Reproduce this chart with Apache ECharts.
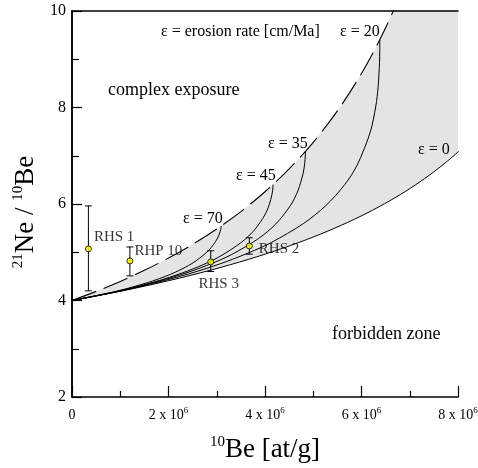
<!DOCTYPE html>
<html>
<head>
<meta charset="utf-8">
<script src="https://cdn.jsdelivr.net/npm/echarts@6/dist/echarts.min.js"></script>
<style>
  html, body { margin: 0; padding: 0; background: #fff; }
  #chart { width: 478px; height: 468px; }
</style>
</head>
<body>
<div id="chart"></div>
<script>
// x = 10Be in 10^6 at/g, y = 21Ne/10Be ratio

// upper envelope (steady state erosion), dashed
const steadyErosion = [
  [0, 4], [0.5, 4.189], [1, 4.396], [1.5, 4.625], [2, 4.879], [2.5, 5.163],
  [3, 5.481], [3.5, 5.842], [4, 6.254], [4.5, 6.727], [5, 7.279], [5.5, 7.929],
  [6, 8.706], [6.5, 9.652], [7, 10.829], [7.5, 12.333], [8, 14.323]
];

// constant erosion curves (cm/Ma)
const erosion0 = [
  [0, 4], [1.057, 4.202], [2.012, 4.413], [2.877, 4.63], [3.66, 4.853], [4.368, 5.083],
  [5.008, 5.319], [5.588, 5.562], [6.113, 5.811], [6.587, 6.067], [7.016, 6.328],
  [7.405, 6.596], [7.757, 6.869], [8.014, 7.091]
];
const erosion20 = [
  [0, 4], [1.019, 4.199], [1.875, 4.403], [2.594, 4.604], [3.198, 4.806], [3.706, 5.007],
  [4.134, 5.203], [4.793, 5.593], [5.259, 5.965], [5.654, 6.404], [5.91, 6.806],
  [6.183, 7.495], [6.297, 8.031], [6.345, 8.43], [6.373, 8.927], [6.379, 9.173], [6.379, 9.405]
];
const erosion35 = [
  [0, 4], [0.992, 4.199], [1.781, 4.395], [2.407, 4.585], [2.906, 4.771], [3.302, 4.949],
  [3.867, 5.285], [4.224, 5.587], [4.529, 5.971], [4.682, 6.273], [4.788, 6.625],
  [4.822, 6.832], [4.836, 7.012], [4.837, 7.089]
];
const erosion45 = [
  [0, 4], [0.974, 4.199], [1.721, 4.389], [2.292, 4.574], [2.731, 4.748], [3.066, 4.914],
  [3.52, 5.213], [3.787, 5.468], [3.995, 5.77], [4.088, 5.986], [4.145, 6.203],
  [4.165, 6.359], [4.165, 6.402]
];
const erosion70 = [
  [0, 4], [0.933, 4.195], [1.584, 4.376], [2.039, 4.542], [2.356, 4.693], [2.578, 4.828],
  [2.842, 5.049], [3.007, 5.274], [3.072, 5.433], [3.09, 5.518], [3.092, 5.544]
];

// samples
const sampleNames = ['RHS 1', 'RHP 10', 'RHS 3', 'RHS 2'];
const sampleBe10  = [0.34, 1.2, 2.875, 3.675];
const sampleRatio = [5.07, 4.82, 4.8, 5.13];
const sampleLow   = [4.2, 4.51, 4.6, 4.96];
const sampleHigh  = [5.96, 5.11, 5.03, 5.3];

const xTicks = [0, 2, 4, 6, 8];

const FONT = "'Liberation Serif', 'Times New Roman', serif";
const GREY = '#e4e4e4';

// where each sample label sits next to its dot
const labelPlace = {
  'RHS 1':  { position: 'right', distance: 2, offset: [0, -12] },
  'RHP 10': { position: 'right', distance: 1, offset: [0, -10] },
  'RHS 3':  { position: 'bottom', distance: 11, offset: [8, 0] },
  'RHS 2':  { position: 'right', distance: 6, offset: [0, 3] }
};

const chart = echarts.init(document.getElementById('chart'), null, { renderer: 'canvas' });

const blackLine = { color: '#000', width: 1.5 };

function curve(data) {
  return {
    type: 'line', data: data, smooth: 0.3, symbol: 'none', z: 4,
    lineStyle: { color: '#000', width: 1 }, silent: true
  };
}

const option = {
  animation: false,
  backgroundColor: '#fff',
  grid: { left: 72, right: 20, top: 11, bottom: 71, outerBoundsMode: 'none' },
  xAxis: [{
    type: 'value', min: 0, max: 8, interval: 2, z: 10,
    axisLine: { lineStyle: blackLine },
    axisTick: { inside: true, length: 11, lineStyle: { color: '#000', width: 1.2 } },
    minorTick: { show: true, splitNumber: 2, length: 6, lineStyle: { color: '#000', width: 1.2 } },
    splitLine: { show: false },
    axisLabel: {
      margin: 9, color: '#000',
      formatter: v => (xTicks.indexOf(v) < 1 ? '{n|' + v + '}' : '{n|' + v + ' x 10}{s|6}'),
      rich: {
        n: { fontFamily: FONT, fontSize: 14, lineHeight: 18, color: '#000' },
        s: { fontFamily: FONT, fontSize: 9, lineHeight: 10, verticalAlign: 'top', color: '#000' }
      }
    },
    name: '{sup|10}{base|Be [at/g]}',
    nameLocation: 'middle', nameGap: 38,
    nameTextStyle: {
      rich: {
        base: { fontFamily: FONT, fontSize: 27, lineHeight: 30, color: '#000' },
        sup: { fontFamily: FONT, fontSize: 15, lineHeight: 20, verticalAlign: 'top', color: '#000' }
      }
    }
  }, {
    type: 'value', min: 0, max: 8, position: 'top', z: 10,
    axisLine: { lineStyle: blackLine }, axisTick: { show: false },
    axisLabel: { show: false }, splitLine: { show: false }
  }],
  yAxis: [{
    type: 'value', min: 2, max: 10, interval: 2, z: 10,
    axisLine: { lineStyle: blackLine },
    axisTick: { inside: true, length: 10, lineStyle: { color: '#000', width: 1.2 } },
    minorTick: { show: true, splitNumber: 2, length: 7, lineStyle: { color: '#000', width: 1.2 } },
    splitLine: { show: false },
    axisLabel: { margin: 6, color: '#000', fontFamily: FONT, fontSize: 16 },
    name: '{sup|21}{base|Ne / }{sup|10}{base|Be}',
    nameLocation: 'middle', nameGap: 27, nameRotate: 90,
    nameTextStyle: {
      padding: [0, 16, 0, 0],
      rich: {
        base: { fontFamily: FONT, fontSize: 27, lineHeight: 30, color: '#000' },
        sup: { fontFamily: FONT, fontSize: 15, lineHeight: 20, verticalAlign: 'top', color: '#000' }
      }
    }
  }, {
    type: 'value', min: 2, max: 10, position: 'right', z: 10,
    axisLine: { lineStyle: blackLine }, axisTick: { show: false },
    axisLabel: { show: false }, splitLine: { show: false }
  }],
  series: [
    // grey field under the dashed envelope
    {
      type: 'line', data: steadyErosion, smooth: 0.3, symbol: 'none', z: 2, silent: true,
      lineStyle: { color: '#000', width: 1.1, type: [26, 8] },
      areaStyle: { color: GREY, opacity: 1, origin: 'start' }
    },
    // forbidden zone below erosion = 0 stays white
    {
      type: 'line', data: erosion0, smooth: 0.3, symbol: 'none', z: 3, silent: true,
      lineStyle: { color: '#000', width: 1 },
      areaStyle: { color: '#fff', opacity: 1, origin: 'start' }
    },
    curve(erosion20),
    curve(erosion35),
    curve(erosion45),
    curve(erosion70),
    // error bars
    {
      type: 'custom', z: 6, silent: true,
      data: sampleBe10.map((x, i) => [x, sampleLow[i], sampleHigh[i]]),
      encode: { x: 0, y: [1, 2] },
      renderItem: function (params, api) {
        const top = api.coord([api.value(0), api.value(2)]);
        const bot = api.coord([api.value(0), api.value(1)]);
        const w = 3.5;
        const st = { stroke: '#000', lineWidth: 1 };
        return {
          type: 'group',
          children: [
            { type: 'line', shape: { x1: top[0], y1: top[1], x2: bot[0], y2: bot[1] }, style: st },
            { type: 'line', shape: { x1: top[0] - w, y1: top[1], x2: top[0] + w, y2: top[1] }, style: st },
            { type: 'line', shape: { x1: bot[0] - w, y1: bot[1], x2: bot[0] + w, y2: bot[1] }, style: st }
          ]
        };
      }
    },
    // sample points
    {
      type: 'scatter', z: 8, symbol: 'circle', symbolSize: 6,
      itemStyle: { color: '#ffff00', borderColor: '#000', borderWidth: 1 },
      data: sampleNames.map((n, i) => ({
        name: n,
        value: [sampleBe10[i], sampleRatio[i]],
        label: Object.assign({
          show: true, formatter: n, color: '#000', fontFamily: FONT, fontSize: 15,
          textBorderWidth: 0
        }, labelPlace[n])
      }))
    }
  ],
  graphic: [
    { type: 'text', z: 20, left: 161, top: 24, style: { text: 'ε = erosion rate [cm/Ma]', font: '16px ' + FONT, fill: '#000' } },
    { type: 'text', z: 20, left: 108, top: 81, style: { text: 'complex exposure', font: '18px ' + FONT, fill: '#000' } },
    { type: 'text', z: 20, left: 332, top: 325, style: { text: 'forbidden zone', font: '18px ' + FONT, fill: '#000' } },
    { type: 'text', z: 20, left: 340, top: 24, style: { text: 'ε = 20', font: '16px ' + FONT, fill: '#000' } },
    { type: 'text', z: 20, left: 268, top: 136, style: { text: 'ε = 35', font: '16px ' + FONT, fill: '#000' } },
    { type: 'text', z: 20, left: 236, top: 168, style: { text: 'ε = 45', font: '16px ' + FONT, fill: '#000' } },
    { type: 'text', z: 20, left: 183, top: 211, style: { text: 'ε = 70', font: '16px ' + FONT, fill: '#000' } },
    { type: 'text', z: 20, left: 418, top: 142, style: { text: 'ε = 0', font: '16px ' + FONT, fill: '#000' } }
  ]
};

chart.setOption(option);
</script>
</body>
</html>
